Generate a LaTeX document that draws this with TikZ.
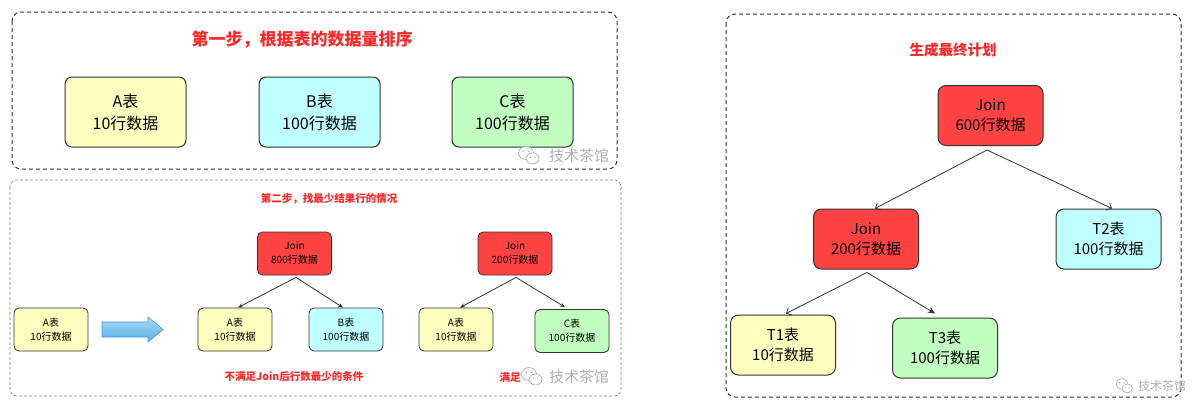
\documentclass[tikz,border=0pt]{standalone}
\usepackage{fontspec}
\setmainfont{Noto Sans CJK SC}
\usetikzlibrary{arrows.meta}
\definecolor{ye}{RGB}{255,255,192}
\definecolor{cy}{RGB}{192,255,255}
\definecolor{gr}{RGB}{192,255,192}
\definecolor{rd}{RGB}{255,66,66}
\definecolor{boxline}{RGB}{51,51,51}
\definecolor{titlered}{RGB}{255,40,40}
\definecolor{wmgray}{RGB}{176,176,176}
\definecolor{arrL}{RGB}{170,218,248}
\definecolor{arrD}{RGB}{90,172,232}
\definecolor{arrB}{RGB}{70,150,215}
\begin{document}
\begin{tikzpicture}[x=1pt,y=-1pt,
  tbl/.style={draw=boxline, line width=1pt, rounded corners=7pt, align=center, inner sep=0pt},
  big/.style={tbl, minimum width=121pt, minimum height=70pt, font=\fontsize{16}{22}\selectfont},
  small/.style={tbl, minimum width=74pt, minimum height=43pt, rounded corners=5pt, line width=.8pt, font=\fontsize{10}{14}\selectfont},
  mid/.style={tbl, minimum width=105pt, minimum height=60pt, rounded corners=8pt, font=\fontsize{15}{20}\selectfont},
  frameA/.style={draw=boxline, line width=1pt, dash pattern=on 4pt off 3pt, rounded corners=9pt},
  frameB/.style={draw=gray, line width=.6pt, dash pattern=on 3pt off 2pt, rounded corners=7pt},
  ttl/.style={text=titlered, font=\bfseries\fontsize{#1}{#1}\selectfont},
  wmtext/.style={text=wmgray, font=\fontsize{#1}{#1}\selectfont},
  conn/.style={draw=boxline, line width=.8pt},
  wechat/.pic={
    \draw[wmgray, line width=.7pt, fill=white] (0,0) ellipse [x radius=7.5, y radius=6.5];
    \fill[wmgray] (-2.7,-1.5) circle (.9) (2.7,-1.5) circle (.9);
    \draw[wmgray, line width=.7pt, fill=white] (6.5,5.5) ellipse [x radius=6.5, y radius=5.5];
    \fill[wmgray] (4.3,4.5) circle (.7) (8.7,4.5) circle (.7);
  }]
\useasboundingbox (0,0) rectangle (1201,407);

% frames
\draw[frameA] (12,12) rectangle (617,169);
\draw[frameB] (10,180) rectangle (621,396);
\draw[frameA] (726,14) rectangle (1181,397);

% frame 1
\node[ttl=17] (t1title) at (302,39) {第一步，根据表的数据量排序};
\node[big, fill=ye] (a1) at (125.5,112) {A表\\10行数据};
\node[big, fill=cy] (b1) at (319.5,112) {B表\\100行数据};
\node[big, fill=gr] (c1) at (512.5,112) {C表\\100行数据};
\pic at (526,153) {wechat};
\node[wmtext=15] (wm1) at (579,156) {技术茶馆};

% frame 2
\node[ttl=10.5] (t2title) at (329,199) {第二步，找最少结果行的情况};
\node[small, fill=ye] (al) at (51,329.5) {A表\\10行数据};
\shade[top color=arrL, bottom color=arrD, draw=arrB, line width=.6pt]
  (102,322) -- (148,322) -- (148,317) -- (163,329.5) -- (148,342) -- (148,337) -- (102,337) -- cycle;
\node[small, fill=rd] (j800) at (294.5,253.5) {Join\\800行数据};
\node[small, fill=ye] (am) at (235,329.5) {A表\\10行数据};
\node[small, fill=cy] (bm) at (346,329.5) {B表\\100行数据};
\node[small, fill=rd] (j2b) at (515,253.5) {Join\\200行数据};
\node[small, fill=ye] (ar) at (456,329.5) {A表\\10行数据};
\node[small, fill=gr] (cr) at (572,331) {C表\\100行数据};
\draw[conn, -{Stealth[length=5pt,width=4pt]}] ([xshift=1.5pt,yshift=-2pt]j800.south) -- ([xshift=3pt]am.north);
\draw[conn, -{Stealth[length=5pt,width=4pt]}] ([xshift=1.5pt,yshift=-2pt]j800.south) -- ([xshift=-3pt]bm.north);
\draw[conn, -{Stealth[length=5pt,width=4pt]}] ([xshift=1pt,yshift=-2pt]j2b.south) -- ([xshift=4pt]ar.north);
\draw[conn, -{Stealth[length=5pt,width=4pt]}] ([xshift=1pt,yshift=-2pt]j2b.south) -- ([xshift=-7pt,yshift=2pt]cr.north);
\node[ttl=10.5] (fail) at (294,377) {不满足Join后行数最少的条件};
\node[ttl=10.5] (ok) at (510,377) {满足};
\pic at (529,374) {wechat};
\node[wmtext=15] (wm2) at (579,377) {技术茶馆};

% frame 3
\node[ttl=14.5] (t3title) at (953,50) {生成最终计划};
\node[mid, fill=rd] (j600) at (990.5,115.5) {Join\\600行数据};
\node[mid, fill=rd] (j200) at (866,239) {Join\\200行数据};
\node[mid, fill=cy] (t2) at (1108.5,239) {T2表\\100行数据};
\node[mid, fill=ye] (tt1) at (783,345) {T1表\\10行数据};
\node[mid, fill=gr] (t3) at (945,348) {T3表\\100行数据};
\draw[conn, -{Straight Barb[length=4pt,width=8pt]}] ([xshift=-3.5pt,yshift=-4pt]j600.south) -- ([xshift=9pt]j200.north);
\draw[conn, -{Straight Barb[length=4pt,width=8pt]}] ([xshift=-3.5pt,yshift=-4pt]j600.south) -- ([xshift=3.5pt]t2.north);
\draw[conn, -{Straight Barb[length=4pt,width=8pt]}] ([xshift=1pt,yshift=-3pt]j200.south) -- ([xshift=3pt,yshift=1pt]tt1.north);
\draw[conn, -{Stealth[length=7pt,width=6pt]}] ([xshift=1pt,yshift=-3pt]j200.south) -- ([xshift=-10pt,yshift=4pt]t3.north);
\pic[scale=.8] at (1122,384) {wechat};
\node[wmtext=12] (wm3) at (1162,386) {技术茶馆};
\end{tikzpicture}
\end{document}
